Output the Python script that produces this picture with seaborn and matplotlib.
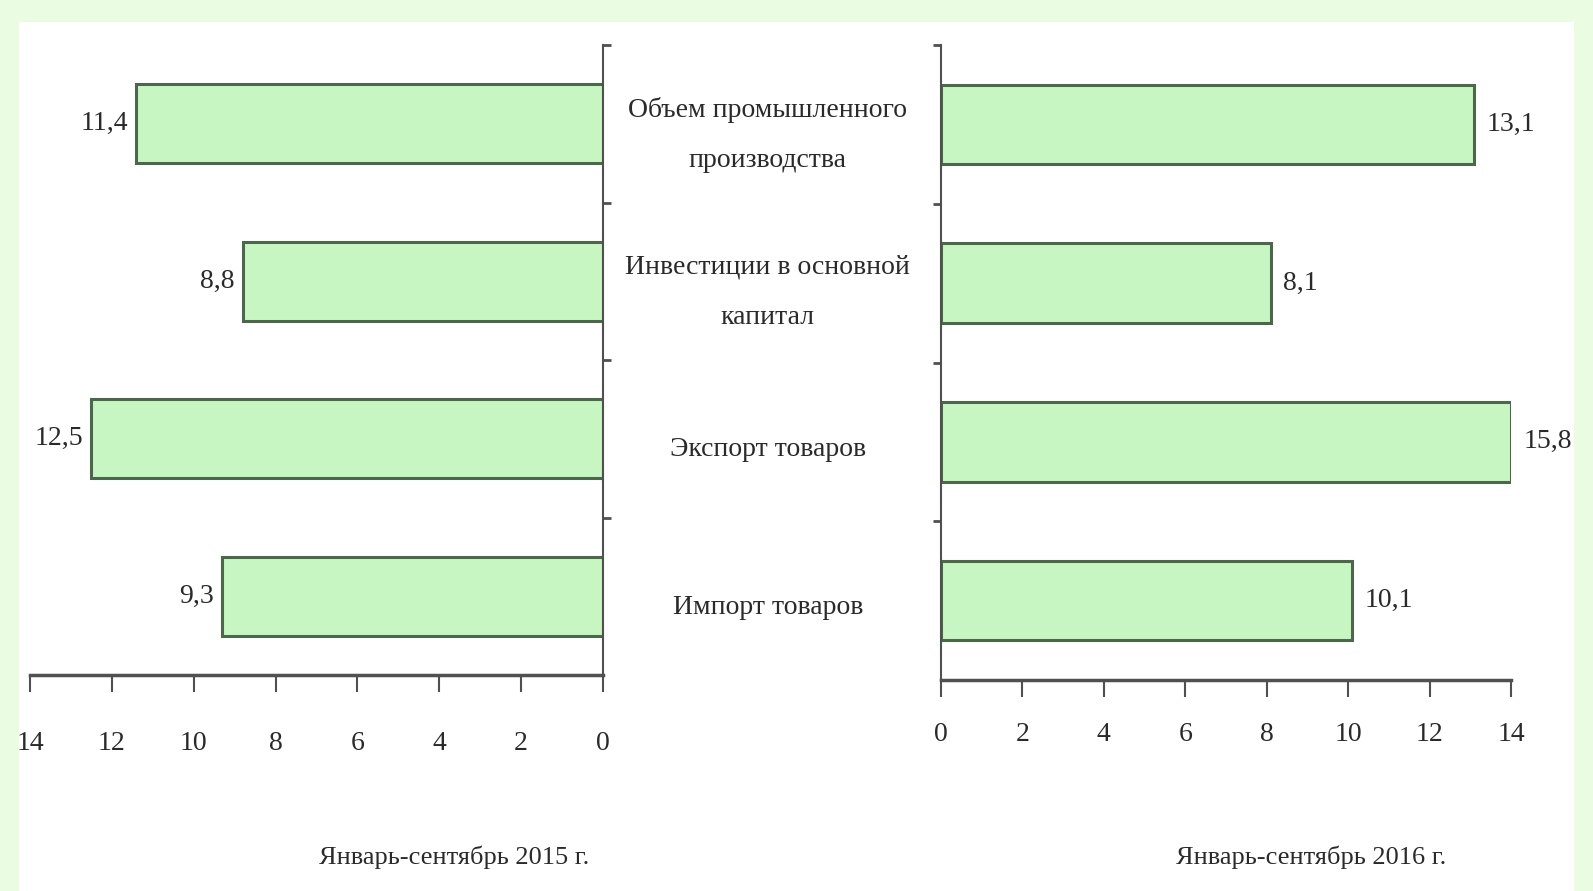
import pandas as pd
import matplotlib.pyplot as plt
import seaborn as sns
from matplotlib.patches import Rectangle
from matplotlib.transforms import blended_transform_factory

# Данные
categories = ["Объем промышленного\nпроизводства", "Инвестиции в основной\nкапитал",
              "Экспорт товаров", "Импорт товаров"]
values_2015 = [11.4, 8.8, 12.5, 9.3]
values_2016 = [13.1, 8.1, 15.8, 10.1]
labels_2015 = ["11,4", "8,8", "12,5", "9,3"]
labels_2016 = ["13,1", "8,1", "15,8", "10,1"]
xticks = [0, 2, 4, 6, 8, 10, 12, 14]
xmax = 14

df15 = pd.DataFrame({"cat": categories, "val": values_2015})
df16 = pd.DataFrame({"cat": categories, "val": values_2016})
# столбец, выходящий за шкалу, обрезается по краю оси
df15["shown"] = df15["val"].clip(upper=xmax)
df16["shown"] = df16["val"].clip(upper=xmax)

sns.set_style("white")
plt.rcParams["font.family"] = ["Liberation Serif", "DejaVu Serif"]
txt_col = "#2a2a2a"

fill = "#c8f6c3"
edge = "#4d674d"
axis_col = "#505050"

fig = plt.figure(figsize=(15.93, 8.91), dpi=100)
fig.patch.set_facecolor("#eafde3")
fig.patches.append(Rectangle((0.012, 0.0), 0.976, 0.975, transform=fig.transFigure,
                             facecolor="white", edgecolor="none", zorder=-10))

ax1 = fig.add_axes([0.0188, 0.2424, 0.3597, 0.7071])
ax2 = fig.add_axes([0.5907, 0.2368, 0.3578, 0.7127])

for ax, df, labels, side in [(ax1, df15, labels_2015, "left"), (ax2, df16, labels_2016, "right")]:
    sns.barplot(data=df, y="cat", x="shown", ax=ax, orient="h", width=0.5,
                color=fill, edgecolor=edge, linewidth=2.2, saturation=1)
    ax.set_facecolor("none")
    ax.set_xlim(0, xmax)
    ax.set_ylim(3.5, -0.5)
    ax.set_xticks(xticks)
    ax.set_yticks([-0.5, 0.5, 1.5, 2.5])
    ax.set_yticklabels([])
    ax.set_ylabel("")
    ax.tick_params(axis="x", bottom=True, length=12, width=1.5, color=axis_col,
                   labelsize=20, labelcolor=txt_col)
    for s in ["top", "right", "left", "bottom"]:
        ax.spines[s].set_visible(False)
    ax.spines["bottom"].set_visible(True)
    ax.spines["bottom"].set_color(axis_col)
    ax.spines["bottom"].set_linewidth(2.5)
    for i, v in enumerate(df["shown"]):
        if side == "left":
            ax.text(v + 0.2, i, labels[i], ha="right", va="center", fontsize=20,
                    color=txt_col, clip_on=False)
        else:
            ax.text(v + 0.3, i, labels[i], ha="left", va="center", fontsize=20,
                    color=txt_col, clip_on=False)

# левая часть: ось развернута
ax1.invert_xaxis()
ax1.yaxis.tick_right()
ax1.tick_params(axis="y", right=True, left=False, direction="out", length=6, width=2, color=axis_col)
ax1.tick_params(axis="x", pad=28)
ax1.spines["right"].set_visible(True)
ax1.spines["right"].set_color(axis_col)
ax1.spines["right"].set_linewidth(1.5)
ax1.set_xlabel("Январь-сентябрь 2015 г.", fontsize=19, color=txt_col)
ax1.xaxis.set_label_coords(0.74, -0.27)

ax2.tick_params(axis="y", left=True, direction="out", length=6, width=2, color=axis_col)
ax2.tick_params(axis="x", pad=18)
ax2.spines["left"].set_visible(True)
ax2.spines["left"].set_color(axis_col)
ax2.spines["left"].set_linewidth(1.5)
ax2.set_xlabel("Январь-сентябрь 2016 г.", fontsize=19, color=txt_col)
ax2.xaxis.set_label_coords(0.65, -0.26)

# подписи категорий в центре
tr = blended_transform_factory(fig.transFigure, ax1.transData)
for i, c in enumerate(categories):
    fig.text(0.482, i + 0.07, c, transform=tr, ha="center", va="center",
             fontsize=20, linespacing=2.3, color=txt_col)

fig.savefig("out.png", dpi=100)
